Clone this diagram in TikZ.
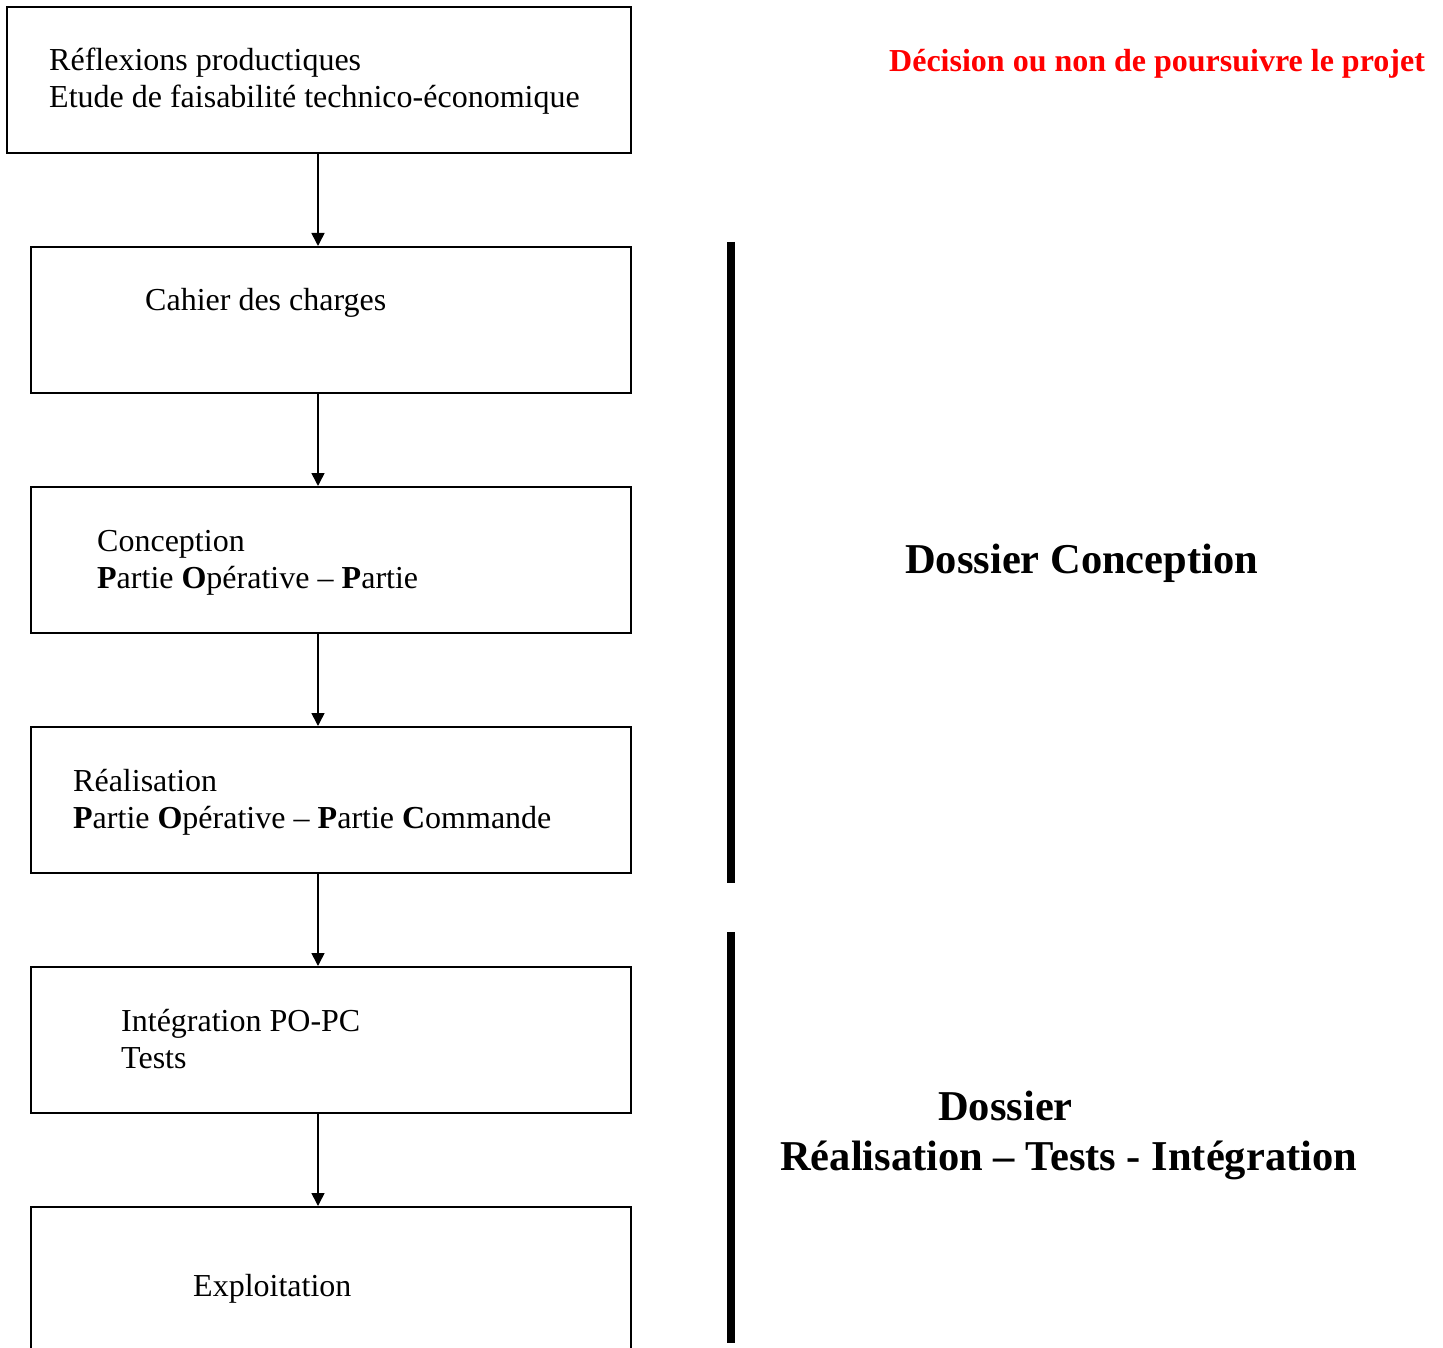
\documentclass[tikz,border=0pt]{standalone}
\usepackage{fontspec}
\setmainfont{Liberation Serif}
\usetikzlibrary{arrows.meta}
\definecolor{decred}{RGB}{255,0,0}
\begin{document}
\begin{tikzpicture}[x=1pt,y=-1pt,
 box/.style={draw=black, line width=2pt, anchor=north west, minimum width=600pt, minimum height=146pt, inner sep=0pt},
 txt/.style={anchor=base west, inner sep=0pt, font=\fontsize{32}{37}\selectfont},
 big/.style={anchor=base west, inner sep=0pt, font=\fontsize{42.5}{50}\selectfont\bfseries},
 flow/.style={line width=1.6pt, -{Triangle[width=13pt,length=13pt]}},
 bar/.style={line width=8pt}]
\useasboundingbox (0,0) rectangle (1443,1348);
\clip (0,0) rectangle (1443,1348);
\fill[white] (0,0) rectangle (1443,1348);
% boxes
\node[box, minimum width=624pt] (b1) at (6,6) {};
\node[box] (b2) at (30,246) {};
\node[box] (b3) at (30,486) {};
\node[box] (b4) at (30,726) {};
\node[box] (b5) at (30,966) {};
\node[box, minimum height=200pt] (b6) at (30,1206) {};
% texts in boxes
\node[txt] (t1a) at (49,71) {Réflexions productiques};
\node[txt] (t1b) at (49,108) {Etude de faisabilité technico-économique};
\node[txt] (t2) at (145,311) {Cahier des charges};
\node[txt] (t3a) at (97,551) {Conception};
\node[txt] (t3b) at (97,588) {\textbf{P}artie \textbf{O}pérative – \textbf{P}artie};
\node[txt] (t4a) at (73,791) {Réalisation};
\node[txt] (t4b) at (73,828) {\textbf{P}artie \textbf{O}pérative – \textbf{P}artie \textbf{C}ommande};
\node[txt] (t5a) at (121,1031) {Intégration PO-PC};
\node[txt] (t5b) at (121,1068) {Tests};
\node[txt] (t6) at (193,1296) {Exploitation};
% arrows
\coordinate (ax) at (318,0);
\draw[flow] (b1.south -| ax) -- (b2.north -| ax);
\draw[flow] (b2.south -| ax) -- (b3.north -| ax);
\draw[flow] (b3.south -| ax) -- (b4.north -| ax);
\draw[flow] (b4.south -| ax) -- (b5.north -| ax);
\draw[flow] (b5.south -| ax) -- (b6.north -| ax);
% right side
\node[txt, text=decred, font=\fontsize{32}{37}\selectfont\bfseries] (dec) at (889,72) {Décision ou non de poursuivre le projet};
\draw[bar] (731,242) -- (731,883);
\draw[bar] (731,932) -- (731,1343);
\node[big] (dc) at (905,573) {Dossier Conception};
\node[big] (dr1) at (938,1120) {Dossier};
\node[big] (dr2) at (780,1170) {Réalisation – Tests - Intégration};
\end{tikzpicture}
\end{document}
